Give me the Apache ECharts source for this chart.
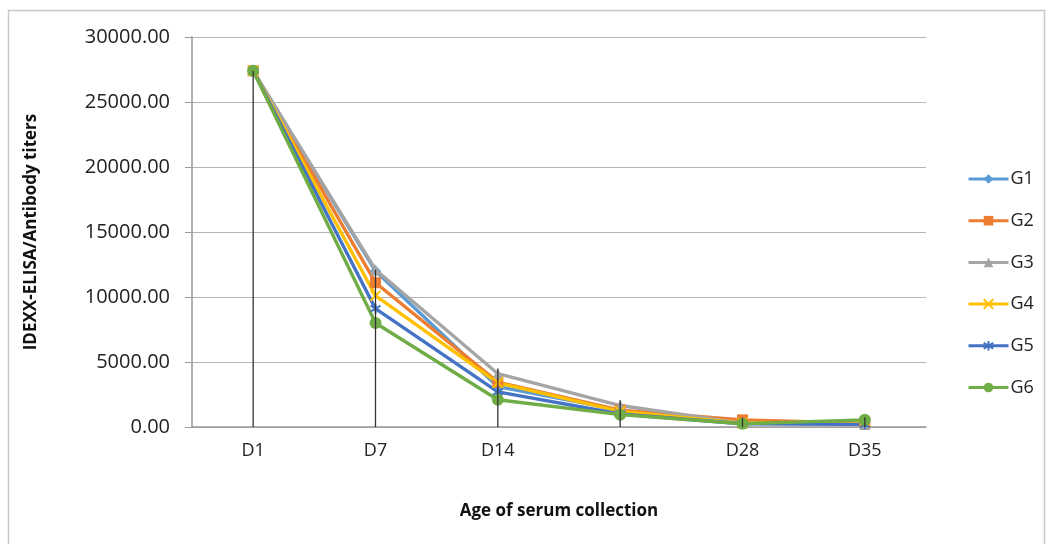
<!DOCTYPE html>
<html>
<head>
<meta charset="utf-8" />
<title></title>
<style>
    html, body, #chart {
        width: 1052px;
        height: 544px;
        margin: 0;
        padding: 0;
        background: #fff;
        overflow: hidden;
    }
</style>
<script src="https://cdn.jsdelivr.net/npm/echarts@6/dist/echarts.min.js"></script>
</head>
<body>
<div id="chart"></div>
<script>
    var days = ['D1', 'D7', 'D14', 'D21', 'D28', 'D35'];
    var yTicks = [0, 5000, 10000, 15000, 20000, 25000, 30000];
    var g1 = [27400, 12000, 3100, 1300, 300, 300];
    var g2 = [27400, 11100, 3450, 1300, 550, 300];
    var g3 = [27400, 12100, 4100, 1650, 300, 200];
    var g4 = [27400, 10100, 3400, 1200, 300, 400];
    var g5 = [27400, 9100, 2700, 1000, 250, 200];
    var g6 = [27400, 8000, 2100, 950, 250, 550];
    // error bar top / bottom
    var errTop = [27400, 12100, 4500, 2050, 700, 750];
    var errBottom = [0, 0, 0, 0, 0, 0];

    var xPath = 'path://M0,0 L10,10 M10,0 L0,10';
    var starPath = 'path://M5,0 L5,10 M0,2 L10,8 M10,2 L0,8';

    var names = ['G1', 'G2', 'G3', 'G4', 'G5', 'G6'];
    var values = [g1, g2, g3, g4, g5, g6];
    var colors = ['#5B9BD5', '#ED7D31', '#A5A5A5', '#FFC000', '#4472C4', '#70AD47'];
    var symbols = ['diamond', 'rect', 'triangle', xPath, starPath, 'circle'];
    var sizes = [11, 11, 11, 10, 10, 12];

    var series = [];
    for (var i = 0; i < names.length; i++) {
        var stroke = (i === 3 || i === 4);
        series.push({
            name: names[i],
            type: 'line',
            data: values[i],
            symbol: symbols[i],
            symbolSize: sizes[i],
            showAllSymbol: true,
            lineStyle: { color: colors[i], width: 3.4 },
            itemStyle: stroke ? {
                color: 'transparent', borderColor: colors[i], borderWidth: 2
            } : { color: colors[i], borderWidth: 0 },
            emphasis: { disabled: true },
            animation: false
        });
    }

    var errData = [];
    for (var k = 0; k < days.length; k++) {
        errData.push([k, errTop[k], errBottom[k]]);
    }
    series.push({
        type: 'custom',
        name: 'err',
        data: errData,
        z: 10,
        animation: false,
        renderItem: function (params, api) {
            var a = api.coord([api.value(0), api.value(1)]);
            var b = api.coord([api.value(0), api.value(2)]);
            return {
                type: 'line',
                shape: { x1: a[0], y1: a[1], x2: b[0], y2: b[1] },
                style: { stroke: '#333', lineWidth: 1.3 }
            };
        }
    });

    var myChart = echarts.init(document.getElementById('chart'));
    var option = {
        animation: false,
        textStyle: { fontFamily: '"Open Sans", sans-serif' },
        graphic: [{
            type: 'rect',
            shape: { x: 8.5, y: 10.5, width: 1036, height: 540 },
            style: { fill: 'none', stroke: '#c8c8c8', lineWidth: 1.5 }
        }],
        grid: { left: 192, top: 37, width: 734, height: 390 },
        legend: {
            data: names,
            orient: 'vertical',
            left: 962,
            top: 165,
            itemWidth: 40,
            itemHeight: 12,
            itemGap: 23.7,
            lineStyle: { width: 3 },
            textStyle: { fontSize: 18, color: '#222', padding: [0, 0, 0, -3] }
        },
        xAxis: {
            type: 'category',
            data: days,
            name: 'Age of serum collection',
            nameLocation: 'middle',
            nameGap: 76,
            nameTextStyle: { fontSize: 17, fontWeight: 'bold', color: '#111' },
            axisLine: { lineStyle: { color: '#999', width: 1.5 } },
            axisTick: { show: false },
            axisLabel: { fontSize: 18, color: '#222', margin: 15 }
        },
        yAxis: {
            type: 'value',
            min: 0,
            max: 30000,
            interval: 5000,
            name: 'IDEXX-ELISA/Antibody titers',
            nameLocation: 'middle',
            nameGap: 152,
            nameTextStyle: { fontSize: 17, fontWeight: 'bold', color: '#111' },
            axisLine: { show: true, lineStyle: { color: '#999', width: 1.5 } },
            axisTick: { show: true, length: 7, lineStyle: { color: '#999' } },
            axisLabel: {
                fontSize: 20, color: '#222', margin: 22,
                formatter: function (v) { return v.toFixed(2); }
            },
            splitLine: { lineStyle: { color: '#b5b5b5', width: 1.2 } }
        },
        series: series
    };
    myChart.setOption(option);
</script>
</body>
</html>
